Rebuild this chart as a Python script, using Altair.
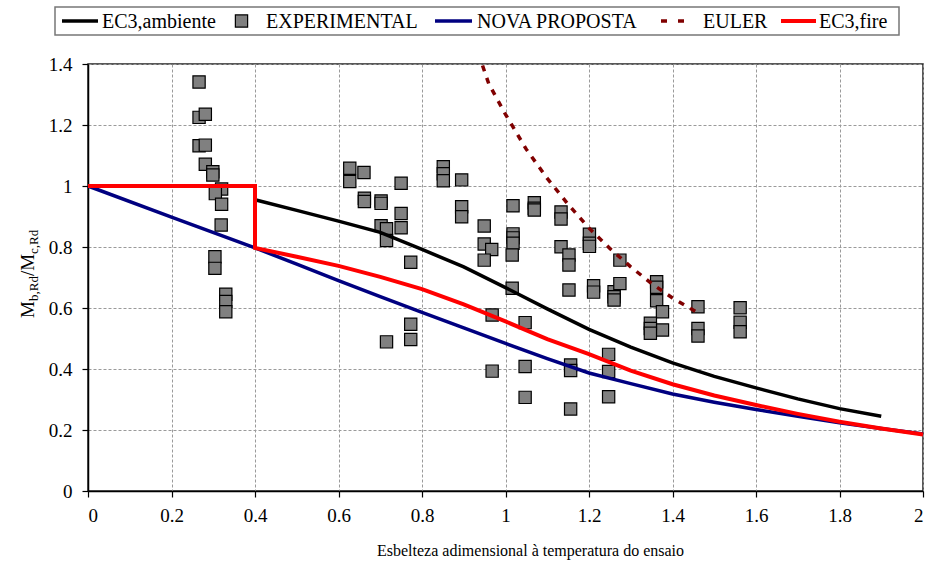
import altair as alt
import pandas as pd

# ---- data -------------------------------------------------------------
# experimental tests: slenderness at test temperature vs Mb,Rd/Mc,Rd
exp_x = [0.266, 0.266, 0.281, 0.266, 0.281, 0.281, 0.299, 0.299, 0.320, 0.305,
         0.320, 0.319, 0.304, 0.304, 0.330, 0.330, 0.330,
         0.627, 0.627, 0.661, 0.750, 0.662, 0.662, 0.702, 0.702, 0.750, 0.702,
         0.715, 0.750, 0.715, 0.773, 0.773, 0.773, 0.715,
         0.851, 0.851, 0.851, 0.895, 0.895, 0.895, 0.949, 0.949, 0.967, 0.949,
         0.968, 0.968,
         1.018, 1.018, 1.018, 1.018, 1.016, 1.016, 1.069, 1.069, 1.069, 1.047,
         1.047, 1.047,
         1.133, 1.133, 1.133, 1.152, 1.152, 1.152, 1.156, 1.156, 1.156,
         1.201, 1.201, 1.201, 1.211, 1.211, 1.260, 1.260, 1.260, 1.274, 1.274,
         1.247, 1.247, 1.247,
         1.362, 1.362, 1.362, 1.376, 1.376, 1.347, 1.347, 1.347,
         1.461, 1.461, 1.461, 1.562, 1.562, 1.562]
exp_y = [1.341, 1.225, 1.235, 1.132, 1.134, 1.071, 1.047, 1.036, 0.990, 0.975,
         0.940, 0.872, 0.768, 0.730, 0.645, 0.621, 0.588,
         1.058, 1.015, 1.044, 1.009, 0.960, 0.949, 0.951, 0.943, 0.910, 0.870,
         0.860, 0.863, 0.821, 0.750, 0.547, 0.497, 0.489,
         1.063, 1.040, 1.017, 1.020, 0.932, 0.899, 0.869, 0.810, 0.792, 0.757,
         0.577, 0.393,
         0.935, 0.843, 0.830, 0.812, 0.774, 0.665, 0.945, 0.927, 0.921, 0.552,
         0.408, 0.307,
         0.915, 0.892, 0.801, 0.774, 0.741, 0.659, 0.413, 0.395, 0.269,
         0.842, 0.812, 0.802, 0.673, 0.652, 0.653, 0.637, 0.626, 0.757, 0.680,
         0.448, 0.392, 0.309,
         0.686, 0.668, 0.624, 0.588, 0.528, 0.550, 0.533, 0.517,
         0.604, 0.533, 0.508, 0.601, 0.553, 0.522]

# EC3 at ambient temperature
amb_x = [0.4, 0.5, 0.6, 0.7, 0.8, 0.9, 1.0, 1.1, 1.2, 1.3, 1.4, 1.5, 1.6, 1.7, 1.8, 1.9]
amb_y = [0.955, 0.92, 0.885, 0.848, 0.792, 0.735, 0.667, 0.597, 0.53, 0.472,
         0.42, 0.376, 0.338, 0.302, 0.27, 0.245]

# EC3 fire design curve
fire_x = [0.0, 0.4, 0.4, 0.5, 0.6, 0.7, 0.8, 0.9, 1.0, 1.1, 1.2, 1.3, 1.4, 1.5,
          1.6, 1.7, 1.8, 1.9, 2.0]
fire_y = [1.0, 1.0, 0.797, 0.768, 0.738, 0.702, 0.662, 0.612, 0.556, 0.498,
          0.449, 0.395, 0.35, 0.313, 0.282, 0.253, 0.227, 0.205, 0.185]

# proposed curve
nova_x = [0.0, 0.2, 0.4, 0.5, 0.6, 0.7, 0.8, 0.9, 1.0, 1.1, 1.2, 1.3, 1.4, 1.5,
          1.6, 1.7, 1.8, 1.9, 2.0]
nova_y = [1.0, 0.898, 0.797, 0.744, 0.69, 0.637, 0.586, 0.535, 0.484, 0.434,
          0.387, 0.352, 0.318, 0.291, 0.267, 0.245, 0.224, 0.205, 0.187]

# elastic critical (Euler) curve
euler_x = [0.945, 0.96, 1.0, 1.05, 1.1, 1.15, 1.2, 1.25, 1.3, 1.35, 1.4, 1.46]
euler_y = [1.395, 1.335, 1.235, 1.12, 1.025, 0.94, 0.862, 0.795, 0.735, 0.68,
           0.633, 0.585]

x_ticks = [0, 0.2, 0.4, 0.6, 0.8, 1.0, 1.2, 1.4, 1.6, 1.8, 2.0]
y_ticks = [0, 0.2, 0.4, 0.6, 0.8, 1.0, 1.2, 1.4]

legend_labels = ["EC3,ambiente", "EXPERIMENTAL", "NOVA PROPOSTA", "EULER", "EC3,fire"]

# ---- styling ----------------------------------------------------------
FONT = "Liberation Serif"
W, H = 835, 427
C_AMB, C_EXP, C_NOVA, C_EUL, C_FIRE = "#000000", "#808080", "#000080", "#800000", "#ff0000"
SQ = 150


def curve_df(xs, ys):
    return pd.DataFrame({"x": xs, "y": ys, "i": range(len(xs))})


x_enc = alt.X("x:Q", scale=alt.Scale(domain=[0, 2], nice=False),
              axis=alt.Axis(values=x_ticks, format="~g",
                            title="Esbelteza adimensional à temperatura do ensaio",
                            titleFont=FONT, titleFontSize=16, titleFontWeight="normal",
                            titleColor="black", titleX=442, titleY=64,
                            titleBaseline="alphabetic", titleAnchor="middle",
                            labelPadding=9))
y_enc = alt.Y("y:Q", scale=alt.Scale(domain=[0, 1.4], nice=False),
              axis=alt.Axis(values=y_ticks, format="~g", title=None, labelPadding=10))


def curve(xs, ys, color, width, dash=None):
    kw = dict(color=color, strokeWidth=width, strokeCap="butt", strokeJoin="miter")
    if dash:
        kw["strokeDash"] = dash
    return alt.Chart(curve_df(xs, ys)).mark_line(**kw).encode(
        x=x_enc, y=y_enc, order="i:Q")


points = alt.Chart(pd.DataFrame({"x": exp_x, "y": exp_y})).mark_square(
    size=SQ, color=C_EXP, fill=C_EXP, stroke="black", strokeWidth=1.2, opacity=1
).encode(x=x_enc, y=y_enc)

nova = curve(nova_x, nova_y, C_NOVA, 3.5)
amb = curve(amb_x, amb_y, C_AMB, 3.5)
fire = curve(fire_x, fire_y, C_FIRE, 4)
euler = curve(euler_x, euler_y, C_EUL, 3.5, dash=[6, 7])

one = pd.DataFrame({"k": [0]})

# ---- y-axis title with subscripts (rotated text pieces) ----------------
def ytext(txt, ypix, xpix, size):
    return alt.Chart(one).mark_text(
        text=txt, angle=270, align="left", baseline="alphabetic",
        font=FONT, fontSize=size, color="black"
    ).encode(x=alt.value(xpix), y=alt.value(ypix))

ytitle = [
    ytext("M", 254, -54, 19),
    ytext("b,Rd", 237, -50, 13),
    ytext("/M", 212, -54, 19),
    ytext("c,Rd", 190, -50, 13),
]

# ---- legend -----------------------------------------------------------
LY = -43
legend_box = alt.Chart(one).mark_rect(
    fill="white", stroke="#777777", strokeWidth=1.5
).encode(x=alt.value(-33), x2=alt.value(811), y=alt.value(-57), y2=alt.value(-29))


def leg_line(x0, x1, color, width, dash=None):
    kw = dict(color=color, strokeWidth=width, strokeCap="butt")
    if dash:
        kw["strokeDash"] = dash
    return alt.Chart(one).mark_rule(**kw).encode(
        x=alt.value(x0), x2=alt.value(x1), y=alt.value(LY))


def leg_text(txt, x0):
    return alt.Chart(one).mark_text(
        text=txt, align="left", baseline="middle", font=FONT, fontSize=20,
        color="black"
    ).encode(x=alt.value(x0), y=alt.value(LY + 1))


legend = [
    legend_box,
    leg_line(-26, 10, C_AMB, 3.5), leg_text(legend_labels[0], 14),
    alt.Chart(one).mark_square(size=SQ, fill=C_EXP, stroke="black",
                               strokeWidth=1.2, opacity=1).encode(
        x=alt.value(153.5), y=alt.value(LY)),
    leg_text(legend_labels[1], 178),
    leg_line(347, 384, C_NOVA, 3.5), leg_text(legend_labels[2], 389),
    leg_line(573, 603, C_EUL, 3.5, dash=[6, 11]), leg_text(legend_labels[3], 615),
    leg_line(693, 728, C_FIRE, 4), leg_text(legend_labels[4], 731),
]

chart = alt.layer(
    points, nova, amb, fire, euler, *ytitle, *legend
).properties(
    width=W, height=H,
    autosize=alt.AutoSizeParams(type="none"),
    padding={"left": 88, "top": 64, "right": 12, "bottom": 79},
).configure_view(
    stroke="#222222", strokeWidth=1.5, fill="white"
).configure_axis(
    labelFont=FONT, labelFontSize=19, labelColor="black",
    domainColor="black", domainWidth=1.5,
    tickColor="black", tickSize=6, tickWidth=1.2,
    grid=True, gridColor="#9a9a9a", gridDash=[3, 2], gridWidth=1,
)

chart.save("out.html", embed_options={"renderer": "svg", "actions": False})
